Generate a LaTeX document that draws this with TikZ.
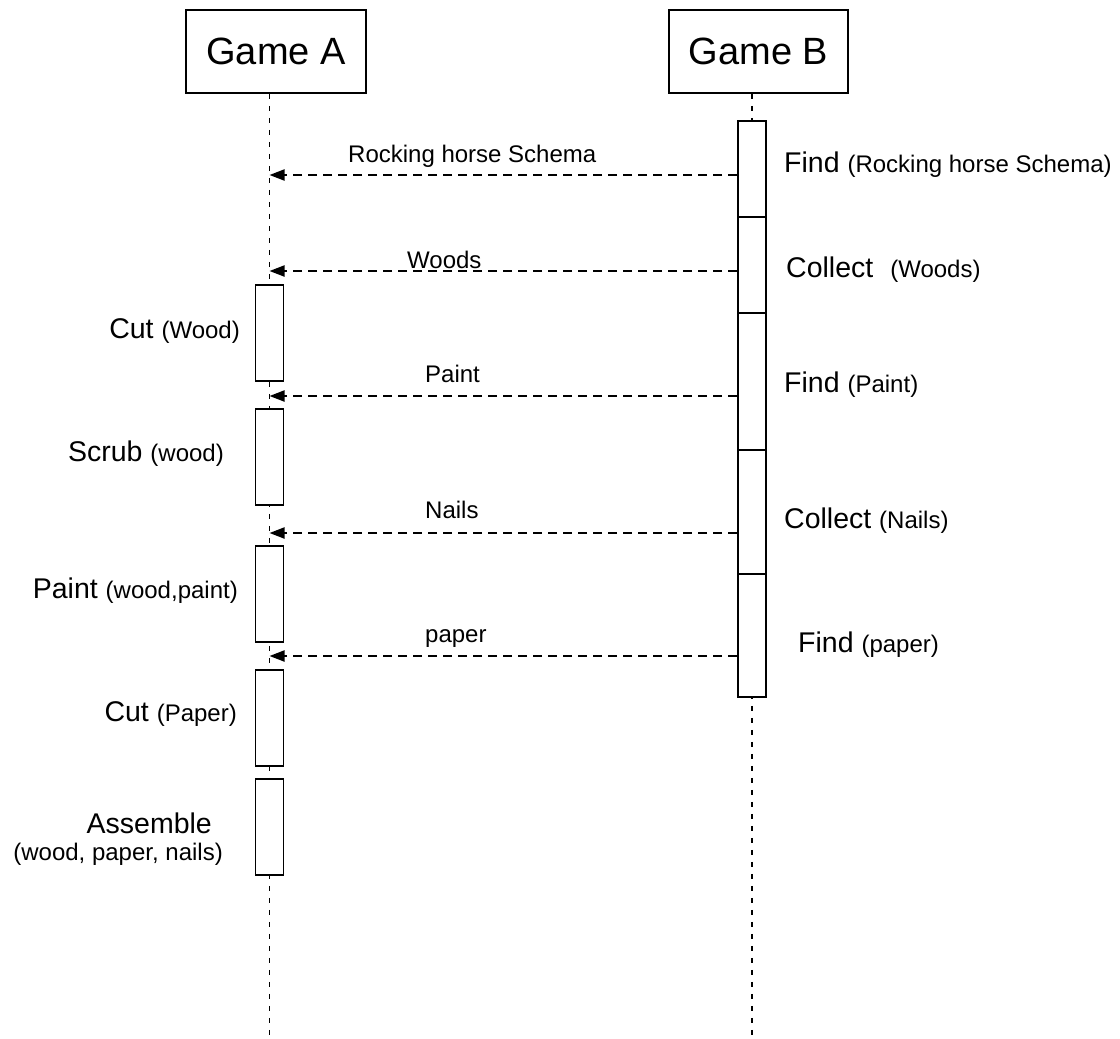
\documentclass[tikz,border=0pt]{standalone}
\usepackage{fontspec}
\setmainfont{Liberation Sans}
\usetikzlibrary{arrows.meta}
\newcommand\parsz[1]{{\fontsize{24}{28}\selectfont #1}}
\begin{document}
\begin{tikzpicture}[x=1pt,y=-1pt,
  header/.style={draw,line width=1.9pt,rectangle,inner sep=0,minimum height=83,font=\fontsize{38}{44}\selectfont},
  act/.style={draw,line width=1.9pt,fill=white,rectangle,inner sep=0,minimum width=28},
  life/.style={line width=1.6pt,dash pattern=on 5.5pt off 6.5pt},
  msg/.style={line width=2pt,dash pattern=on 9pt off 6pt,-{Triangle[length=15pt,width=11pt]}},
  biglbl/.style={inner sep=0,font=\fontsize{28.5}{34}\selectfont},
  msglbl/.style={inner sep=0,anchor=base west,font=\fontsize{24}{28}\selectfont}]
\useasboundingbox (0,0) rectangle (1120,1039);
% headers
\node[header,minimum width=180] (ga) at (276,51.5) {Game A};
\node[header,minimum width=179] (gb) at (758.5,51.5) {Game B};
% lifelines
\coordinate (laend) at (269.5,1039);
\coordinate (lbend) at (752,1039);
\draw[life] (ga.south -| laend) -- (laend);
\draw[life] (gb.south -| lbend) -- (lbend);
% activation boxes on B
\node[act,minimum height=96] (b1) at (752,169) {};
\node[act,minimum height=96] (b2) at (752,265) {};
\node[act,minimum height=137] (b3) at (752,381.5) {};
\node[act,minimum height=124] (b4) at (752,512) {};
\node[act,minimum height=123] (b5) at (752,635.5) {};
% activation boxes on A
\node[act,minimum height=96] (a1) at (269.5,333) {};
\node[act,minimum height=96] (a2) at (269.5,457) {};
\node[act,minimum height=96] (a3) at (269.5,594) {};
\node[act,minimum height=96] (a4) at (269.5,718) {};
\node[act,minimum height=96] (a5) at (269.5,827) {};
% message endpoints
\coordinate (e1) at (269.5,175);
\coordinate (e2) at (269.5,271);
\coordinate (e3) at (269.5,396);
\coordinate (e4) at (269.5,533);
\coordinate (e5) at (269.5,656);
\draw[msg] (b1.west |- e1) -- (e1);
\draw[msg] (b2.west |- e2) -- (e2);
\draw[msg] (b3.west |- e3) -- (e3);
\draw[msg] (b4.west |- e4) -- (e4);
\draw[msg] (b5.west |- e5) -- (e5);
% message labels
\node[msglbl] (m1) at (348,162) {Rocking horse Schema};
\node[msglbl] (m2) at (407,268) {Woods};
\node[msglbl] (m3) at (425,382) {Paint};
\node[msglbl] (m4) at (425,518) {Nails};
\node[msglbl] (m5) at (425,642) {paper};
% B labels
\node[biglbl,anchor=base west] (lb1) at (784,172) {Find \parsz{(Rocking horse Schema)}};
\node[biglbl,anchor=base west] (lb2) at (786,277) {Collect\hspace{17pt}\parsz{(Woods)}};
\node[biglbl,anchor=base west] (lb3) at (784,392) {Find \parsz{(Paint)}};
\node[biglbl,anchor=base west] (lb4) at (784,528) {Collect \parsz{(Nails)}};
\node[biglbl,anchor=base west] (lb5) at (798,652) {Find \parsz{(paper)}};
% A labels
\node[biglbl,anchor=base east] (la1) at (240,338) {Cut \parsz{(Wood)}};
\node[biglbl,anchor=base east] (la2) at (224,461) {Scrub \parsz{(wood)}};
\node[biglbl,anchor=base east] (la3) at (238,598) {Paint \parsz{(wood,paint)}};
\node[biglbl,anchor=base east] (la4) at (237,721) {Cut \parsz{(Paper)}};
\node[biglbl,anchor=base east] (la5) at (212,833) {Assemble};
\node[msglbl,anchor=base east] (la6) at (223,860) {(wood, paper, nails)};
\end{tikzpicture}
\end{document}
